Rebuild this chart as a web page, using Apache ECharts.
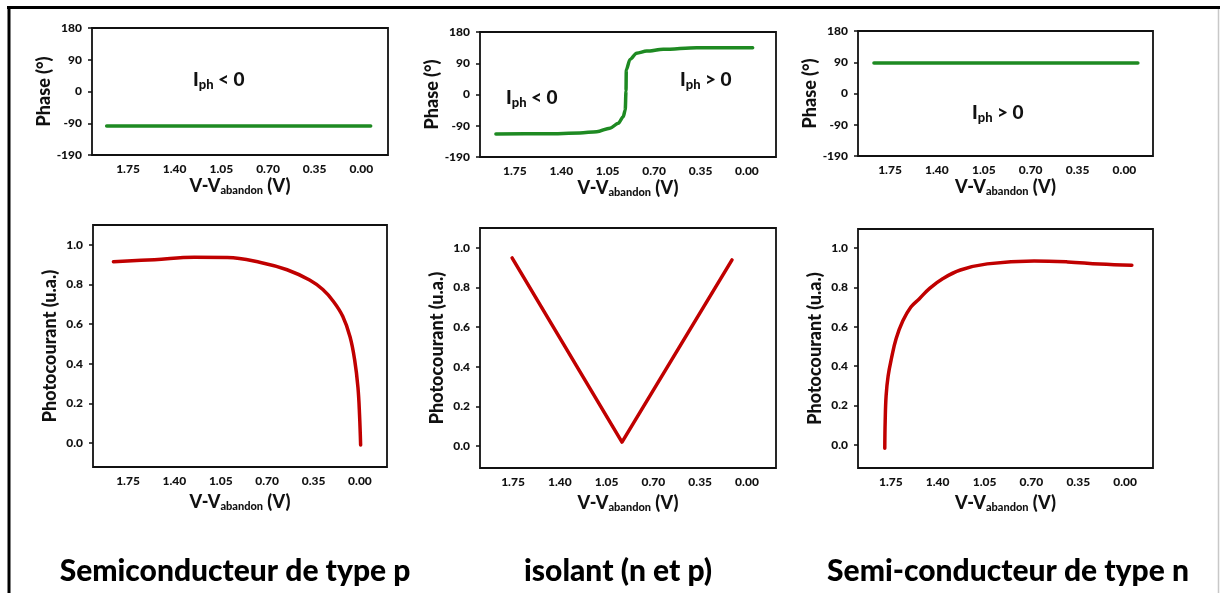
<!DOCTYPE html>
<html><head><meta charset="utf-8">
<script src="https://cdn.jsdelivr.net/npm/echarts@6/dist/echarts.min.js"></script>
<style>html,body{margin:0;padding:0;background:#fff}#c{width:1220px;height:593px}</style>
</head><body><div id="c"></div>
<script>
// ---------- data ----------
const voltageTicks = [0, 0.35, 0.70, 1.05, 1.40, 1.75];
const phaseTickValues = [-180, -90, 0, 90, 180];
const phaseTickLabels = ['-190', '-90', '0', '90', '180'];
const currentTicks = [0, 0.2, 0.4, 0.6, 0.8, 1.0];

const pTypePhaseV = [1.91, 1.40, 0.70, -0.07];
const pTypePhase  = [-98, -98, -98, -98];
const insPhaseV = [1.893, 1.51, 1.26, 1.133, 1.033, 0.97, 0.933, 0.918, 0.912, 0.91, 0.882, 0.832, 0.756, 0.631, 0.379, -0.043];
const insPhase  = [-114, -113, -111, -107, -97, -83, -64, -45, 10, 71, 101, 119, 125, 130, 135, 135];
const nTypePhaseV = [1.87, 1.40, 0.70, -0.10];
const nTypePhase  = [88, 88, 88, 88];

const pTypeCurV = [1.86, 1.55, 1.25, 1.0, 0.75, 0.55, 0.38, 0.28, 0.2, 0.13, 0.075, 0.04, 0.015, 0.003, -0.005];
const pTypeCur  = [0.916, 0.926, 0.938, 0.937, 0.912, 0.875, 0.823, 0.775, 0.715, 0.64, 0.537, 0.42, 0.28, 0.14, -0.01];
const insCurV = [1.757, 0.935, 0.112];
const insCur  = [0.95, 0.02, 0.94];
const nTypeCurV = [1.795, 1.792, 1.785, 1.77, 1.745, 1.71, 1.66, 1.60, 1.54, 1.46, 1.36, 1.23, 1.03, 0.68, 0.43, 0.19, -0.05];
const nTypeCur  = [-0.017, 0.12, 0.25, 0.35, 0.44, 0.54, 0.63, 0.70, 0.74, 0.795, 0.845, 0.888, 0.919, 0.934, 0.929, 0.918, 0.912];

const captions = ['Semiconducteur de type p', 'isolant (n et p)', 'Semi-conducteur de type n'];
const annotationTexts = ['{i|I}{s|ph}{i| < 0}', '{i|I}{s|ph}{i| < 0}', '{i|I}{s|ph}{i| > 0}', '{i|I}{s|ph}{i| > 0}'];
const xAxisTitle = '{a|V-V}{b|abandon}{a| (V)}';
const phaseTitle = 'Phase (°)';
const currentTitle = 'Photocourant (u.a.)';

// ---------- layout ----------
const FONT = 'Lato';
const GREEN = '#1e8a22';
const RED = '#c00000';
const INK = '#111';
const grids = [
  {left: 92,  top: 28,  width: 296, height: 127},
  {left: 480, top: 32,  width: 296, height: 125},
  {left: 858, top: 31,  width: 295, height: 125},
  {left: 93,  top: 225, width: 294, height: 242},
  {left: 480, top: 228, width: 296, height: 240},
  {left: 858, top: 229, width: 295, height: 239}
];
const xRanges = [[-0.2, 2.02], [-0.219, 2.013], [-0.213, 1.989], [-0.204, 2.014], [-0.217, 1.997], [-0.208, 1.995]];
const curRanges = [[-0.121, 1.101], [-0.111, 1.101], [-0.117, 1.096]];

const zip = (xs, ys) => xs.map((x, i) => [x, ys[i]]);
const seriesData = [
  zip(pTypePhaseV, pTypePhase), zip(insPhaseV, insPhase), zip(nTypePhaseV, nTypePhase),
  zip(pTypeCurV, pTypeCur), zip(insCurV, insCur), zip(nTypeCurV, nTypeCur)
];

const labelStyle = {fontFamily: FONT, fontWeight: 900, fontSize: 12, color: INK};
const titleRich = {
  a: {fontFamily: FONT, fontWeight: 900, fontSize: 18, color: INK, lineHeight: 22},
  b: {fontFamily: FONT, fontWeight: 900, fontSize: 11, color: INK, lineHeight: 22, padding: [9, 0, 0, 0]}
};

const xAxes = grids.map((g, i) => ({
  type: 'value', gridIndex: i, inverse: true,
  min: xRanges[i][0], max: xRanges[i][1],
  axisLine: {show: false, onZero: false}, axisTick: {show: false}, splitLine: {show: false},
  axisLabel: Object.assign({customValues: voltageTicks, formatter: v => v.toFixed(2), margin: 8}, labelStyle),
  name: xAxisTitle, nameLocation: 'middle', nameGap: i < 3 ? 19 : 24,
  nameTextStyle: {rich: titleRich}
}));

const yAxes = grids.map((g, i) => {
  const base = {
    type: 'value', gridIndex: i,
    axisLine: {show: false, onZero: false}, splitLine: {show: false},
    axisTick: {show: true, length: 4, lineStyle: {color: INK, width: 1.5}},
    nameLocation: 'middle', nameGap: 34,
    nameTextStyle: {fontFamily: FONT, fontWeight: 900, fontSize: 18, color: INK}
  };
  if (i < 3) {
    return Object.assign(base, {
      min: -180, max: 180, interval: 90, name: phaseTitle,
      axisLabel: Object.assign({margin: 10, formatter: v => phaseTickLabels[phaseTickValues.indexOf(v)]}, labelStyle)
    });
  }
  return Object.assign(base, {
    min: curRanges[i - 3][0], max: curRanges[i - 3][1], name: currentTitle,
    axisLabel: Object.assign({margin: 10, customValues: currentTicks, formatter: v => v.toFixed(1)}, labelStyle),
    axisTick: {show: true, length: 4, customValues: currentTicks, lineStyle: {color: INK, width: 1.5}}
  });
});

const series = seriesData.map((d, i) => {
  const s = {
    type: 'line', xAxisIndex: i, yAxisIndex: i, data: d,
    showSymbol: false, symbol: 'none', animation: false,
    smooth: false,
    lineStyle: {color: i < 3 ? GREEN : RED, width: 3.5, cap: 'round', join: 'round'}
  };
  if (i === 1) { s.smooth = 0.3; s.smoothMonotone = 'x'; }
  if (i === 3 || i === 5) { s.smooth = 0.4; }
  return s;
});

const annRich = {
  i: {fontFamily: FONT, fontWeight: 900, fontSize: 19, color: INK, lineHeight: 24},
  s: {fontFamily: FONT, fontWeight: 900, fontSize: 13, color: INK, lineHeight: 24, padding: [10, 0, 0, 0]}
};
const annPos = [[193, 80], [506, 98], [680, 80], [972, 113]];
const captionX = [235, 618, 1008];

const graphic = [
  {type: 'line', shape: {x1: 7, y1: 7.5, x2: 1220, y2: 7.5}, style: {stroke: '#000', lineWidth: 3}},
  {type: 'line', shape: {x1: 9, y1: 6, x2: 9, y2: 593}, style: {stroke: '#000', lineWidth: 3}},
  {type: 'line', shape: {x1: 1218.5, y1: 9, x2: 1218.5, y2: 593}, style: {stroke: '#c8c8c8', lineWidth: 1.5}}
];
annotationTexts.forEach((t, k) => graphic.push({
  type: 'text', x: annPos[k][0], y: annPos[k][1],
  style: {text: t, rich: annRich, textAlign: 'left', textVerticalAlign: 'middle', fill: INK}
}));
captions.forEach((t, k) => graphic.push({
  type: 'text', x: captionX[k], y: 571,
  style: {text: t, fontFamily: FONT, fontWeight: 900, fontSize: 30, fill: '#000', textAlign: 'center', textVerticalAlign: 'middle'}
}));

const chart = echarts.init(document.getElementById('c'), null, {renderer: 'canvas'});
chart.setOption({
  backgroundColor: '#fff',
  animation: false,
  grid: grids.map(g => Object.assign({show: true, borderColor: '#111', borderWidth: 1.8, backgroundColor: 'transparent', containLabel: false}, g)),
  xAxis: xAxes, yAxis: yAxes, series, graphic
});
</script></body></html>
